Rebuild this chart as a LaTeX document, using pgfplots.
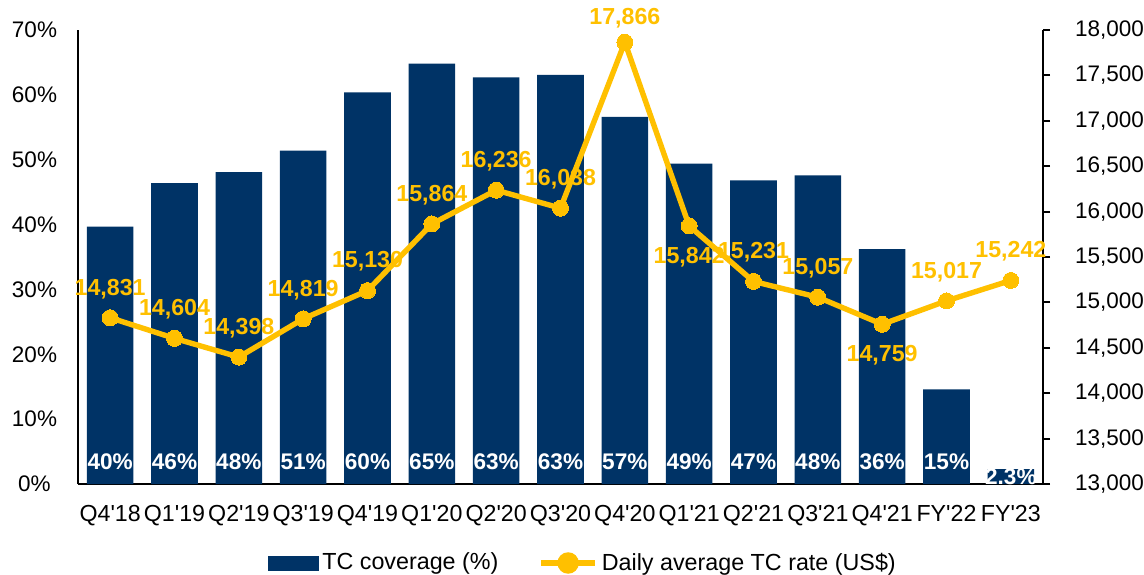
\documentclass[border=0pt]{standalone}
\usepackage{fontspec}
\setmainfont{Liberation Sans}
\usepackage{pgfplots}
\pgfplotsset{compat=1.18}
\definecolor{navy}{RGB}{0,51,102}
\definecolor{gold}{RGB}{255,192,0}
\begin{document}
\begin{tikzpicture}
\pgfplotsset{
  base/.style={
    scale only axis, width=482.5pt, height=227pt,
    xmin=-0.5, xmax=14.5,
    axis line style={black, line width=1pt},
    /pgf/number format/assume math mode=true,
    clip=false,
  }
}
\begin{axis}[base,
  ymin=0, ymax=70, ytick={0,10,...,70},
  yticklabel={\pgfmathprintnumber{\tick}\%},
  axis y line*=left, axis x line*=bottom,
  xtick={0,...,14},
  xticklabels={Q4\textquotesingle18,Q1\textquotesingle19,Q2\textquotesingle19,Q3\textquotesingle19,Q4\textquotesingle19,Q1\textquotesingle20,Q2\textquotesingle20,Q3\textquotesingle20,Q4\textquotesingle20,Q1\textquotesingle21,Q2\textquotesingle21,Q3\textquotesingle21,Q4\textquotesingle21,FY\textquotesingle22,FY\textquotesingle23},
  major tick length=0pt,
  yticklabel style={font=\fontsize{11.25}{13}\selectfont, anchor=center, xshift=-21.75pt},
  xticklabel style={font=\fontsize{11.6}{13}\selectfont, yshift=-7pt},
]
\addplot[ybar, bar width=23.3pt, fill=navy, draw=none] coordinates {
(0,39.7) (1,46.4) (2,48.1) (3,51.4) (4,60.4) (5,64.8) (6,62.7) (7,63.1)
(8,56.6) (9,49.4) (10,46.8) (11,47.6) (12,36.2) (13,14.6) (14,2.3)};
\addplot[draw=none, mark=none, point meta=explicit symbolic, nodes near coords,
  every node near coord/.style={anchor=center, yshift=11.2pt, text=white, font=\bfseries\fontsize{11.3}{13}\selectfont}]
coordinates {
(0,0) [40\%] (1,0) [46\%] (2,0) [48\%] (3,0) [51\%] (4,0) [60\%] (5,0) [65\%] (6,0) [63\%] (7,0) [63\%]
(8,0) [57\%] (9,0) [49\%] (10,0) [47\%] (11,0) [48\%] (12,0) [36\%] (13,0) [15\%]};
\addplot[draw=none, mark=none, point meta=explicit symbolic, nodes near coords,
  every node near coord/.style={anchor=center, yshift=3.6pt, text=white, font=\bfseries\fontsize{11.3}{13}\selectfont}]
coordinates {(14,0) [2.3\%]};
\end{axis}
\begin{axis}[base,
  ymin=13000, ymax=18000, ytick={13000,13500,...,18000},
  scaled y ticks=false,
  axis y line*=right, axis x line=none,
  /pgf/number format/1000 sep={,},
  tick align=outside, major tick length=3.5pt,
  tick style={black, line width=1pt},
  yticklabel style={font=\fontsize{11.25}{13}\selectfont, anchor=west, xshift=9pt},
  legend style={at={(0.524,-0.174)}, anchor=center, draw=none, fill=none,
    legend columns=2, font=\fontsize{11.65}{13}\selectfont,
    /tikz/every even column/.append style={column sep=18pt}},
]
\addlegendimage{legend image code/.code={\fill[navy] (0pt,-3.5pt) rectangle (25pt,3.5pt);}}
\addlegendentry{TC coverage (\%)}
\addplot[gold, line width=2.7pt, mark=*, mark size=4pt, mark options={fill=gold, draw=gold, line width=0pt},
  legend image code/.code={\draw[gold, line width=2.7pt] (0pt,0pt) -- (27pt,0pt); \fill[gold] (13.5pt,0pt) circle (4pt);}]
coordinates {
(0,14831) (1,14604) (2,14398) (3,14819) (4,15130) (5,15864) (6,16236) (7,16038)
(8,17866) (9,15842) (10,15231) (11,15057) (12,14759) (13,15017) (14,15242)};
\addlegendentry{Daily average TC rate (US\$)}
\addplot[forget plot, draw=none, mark=none, point meta=y, nodes near coords,
  every node near coord/.style={anchor=center, yshift=14.5pt, text=gold, font=\bfseries\fontsize{11.6}{13}\selectfont}]
coordinates {
(0,14831) (1,14604) (2,14398) (3,14819) (4,15130) (5,15864) (6,16236) (7,16038)
(10,15231) (11,15057) (13,15017) (14,15242)};
\addplot[forget plot, draw=none, mark=none, point meta=y, nodes near coords,
  every node near coord/.style={anchor=center, yshift=12pt, text=gold, font=\bfseries\fontsize{11.6}{13}\selectfont}]
coordinates {(8,17866)};
\addplot[forget plot, draw=none, mark=none, point meta=y, nodes near coords,
  every node near coord/.style={anchor=center, yshift=-15.5pt, text=gold, font=\bfseries\fontsize{11.6}{13}\selectfont}]
coordinates {(9,15842) (12,14759)};
\end{axis}
\pgfresetboundingbox
\path (-39pt,-45pt) rectangle (533pt,242pt);
\end{tikzpicture}
\end{document}
